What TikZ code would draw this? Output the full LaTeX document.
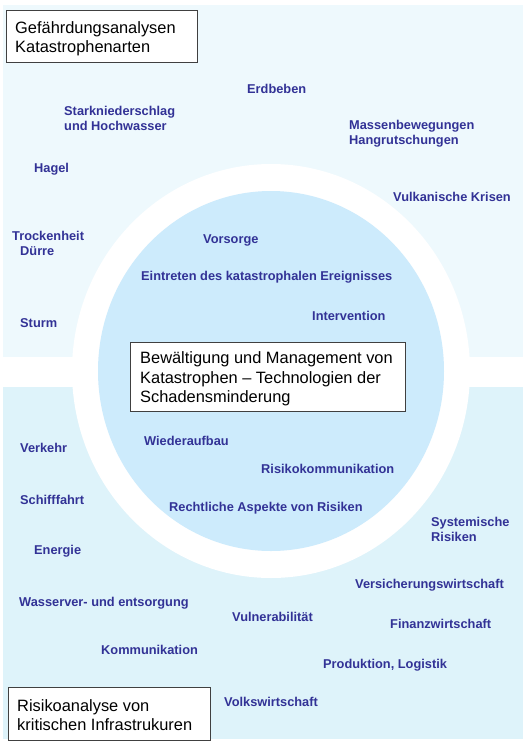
\documentclass[tikz,border=0pt]{standalone}
\usepackage{fontspec}
\setmainfont{Liberation Sans}
\usetikzlibrary{positioning}
\definecolor{riskblue}{RGB}{50,50,150}
\definecolor{hazardbg}{RGB}{238,249,253}
\definecolor{infrabg}{RGB}{222,243,250}
\definecolor{copebg}{RGB}{205,235,252}
\definecolor{boxgray}{RGB}{64,64,64}

\begin{document}
\begin{tikzpicture}[x=1pt, y=-1pt,
 lbl/.style={anchor=west, inner sep=0pt, text=riskblue, font=\fontsize{12.8}{15}\selectfont\bfseries, align=left},
 titlebox/.style={draw=boxgray, fill=white, line width=1pt, anchor=north west},
 titletext/.style={anchor=west, inner sep=0pt, font=\fontsize{16.4}{18.5}\selectfont, align=left}]
 \useasboundingbox (0,0) rectangle (531,748);
 % backgrounds and rings
 \fill[hazardbg] (3,5) rectangle (523,357);
 \fill[infrabg] (3,387) rectangle (523,739);
 \fill[white] (271,371) ellipse [x radius=199, y radius=207];
 \fill[copebg] (271,371) ellipse [x radius=173, y radius=180];
 % title boxes
 \node[titlebox, minimum width=191pt, minimum height=52pt] (hazbox) at (6,10) {};
 \node[titletext] (haztext) at (15,39) {Gefährdungsanalysen\\Katastrophenarten};
 \node[titlebox, minimum width=275pt, minimum height=69pt, line width=1.2pt] (copebox) at (130,342) {};
 \node[titletext, font=\fontsize{16.4}{19.5}\selectfont] (copetext) at (140,379) {Bewältigung und Management von\\Katastrophen – Technologien der\\Schadensminderung};
 \node[titlebox, minimum width=202pt, minimum height=53pt] (infrabox) at (8,687) {};
 \node[titletext] (infratext) at (17,715) {Risikoanalyse von\\kritischen Infrastrukuren};
 % hazards
 \node[lbl] (quake) at (247,89) {Erdbeben};
 \node[lbl] (rain) at (64,118.5) {Starkniederschlag\\und Hochwasser};
 \node[lbl] (slide) at (349,134) {Massenbewegungen\\Hangrutschungen};
 \node[lbl] (hail) at (34,169) {Hagel};
 \node[lbl] (volcano) at (393,197) {Vulkanische Krisen};
 \node[lbl] (drought) at (12,236) {Trockenheit};
 \node[lbl] (duerre) at (20,251) {Dürre};
 \node[lbl] (storm) at (20,323) {Sturm};
 % phases
 \node[lbl] (prep) at (203,240) {Vorsorge};
 \node[lbl] (event) at (141,277) {Eintreten des katastrophalen Ereignisses};
 \node[lbl] (interv) at (312,316) {Intervention};
 \node[lbl] (rebuild) at (144,441) {Wiederaufbau};
 \node[lbl] (riskcom) at (261,469) {Risikokommunikation};
 \node[lbl] (legal) at (169,508) {Rechtliche Aspekte von Risiken};
 % infrastructures
 \node[lbl] (traffic) at (20,448) {Verkehr};
 \node[lbl] (ship) at (20,500) {Schifffahrt};
 \node[lbl] (energy) at (34,551) {Energie};
 \node[lbl] (water) at (19,603) {Wasserver- und entsorgung};
 \node[lbl] (comm) at (101,650) {Kommunikation};
 \node[lbl] (vuln) at (232,617) {Vulnerabilität};
 \node[lbl] (econ) at (224,702) {Volkswirtschaft};
 \node[lbl] (system) at (431,529) {Systemische\\Risiken};
 \node[lbl] (insure) at (355,585) {Versicherungswirtschaft};
 \node[lbl] (finance) at (390,624) {Finanzwirtschaft};
 \node[lbl] (prod) at (323,665) {Produktion, Logistik};
\end{tikzpicture}
\end{document}
